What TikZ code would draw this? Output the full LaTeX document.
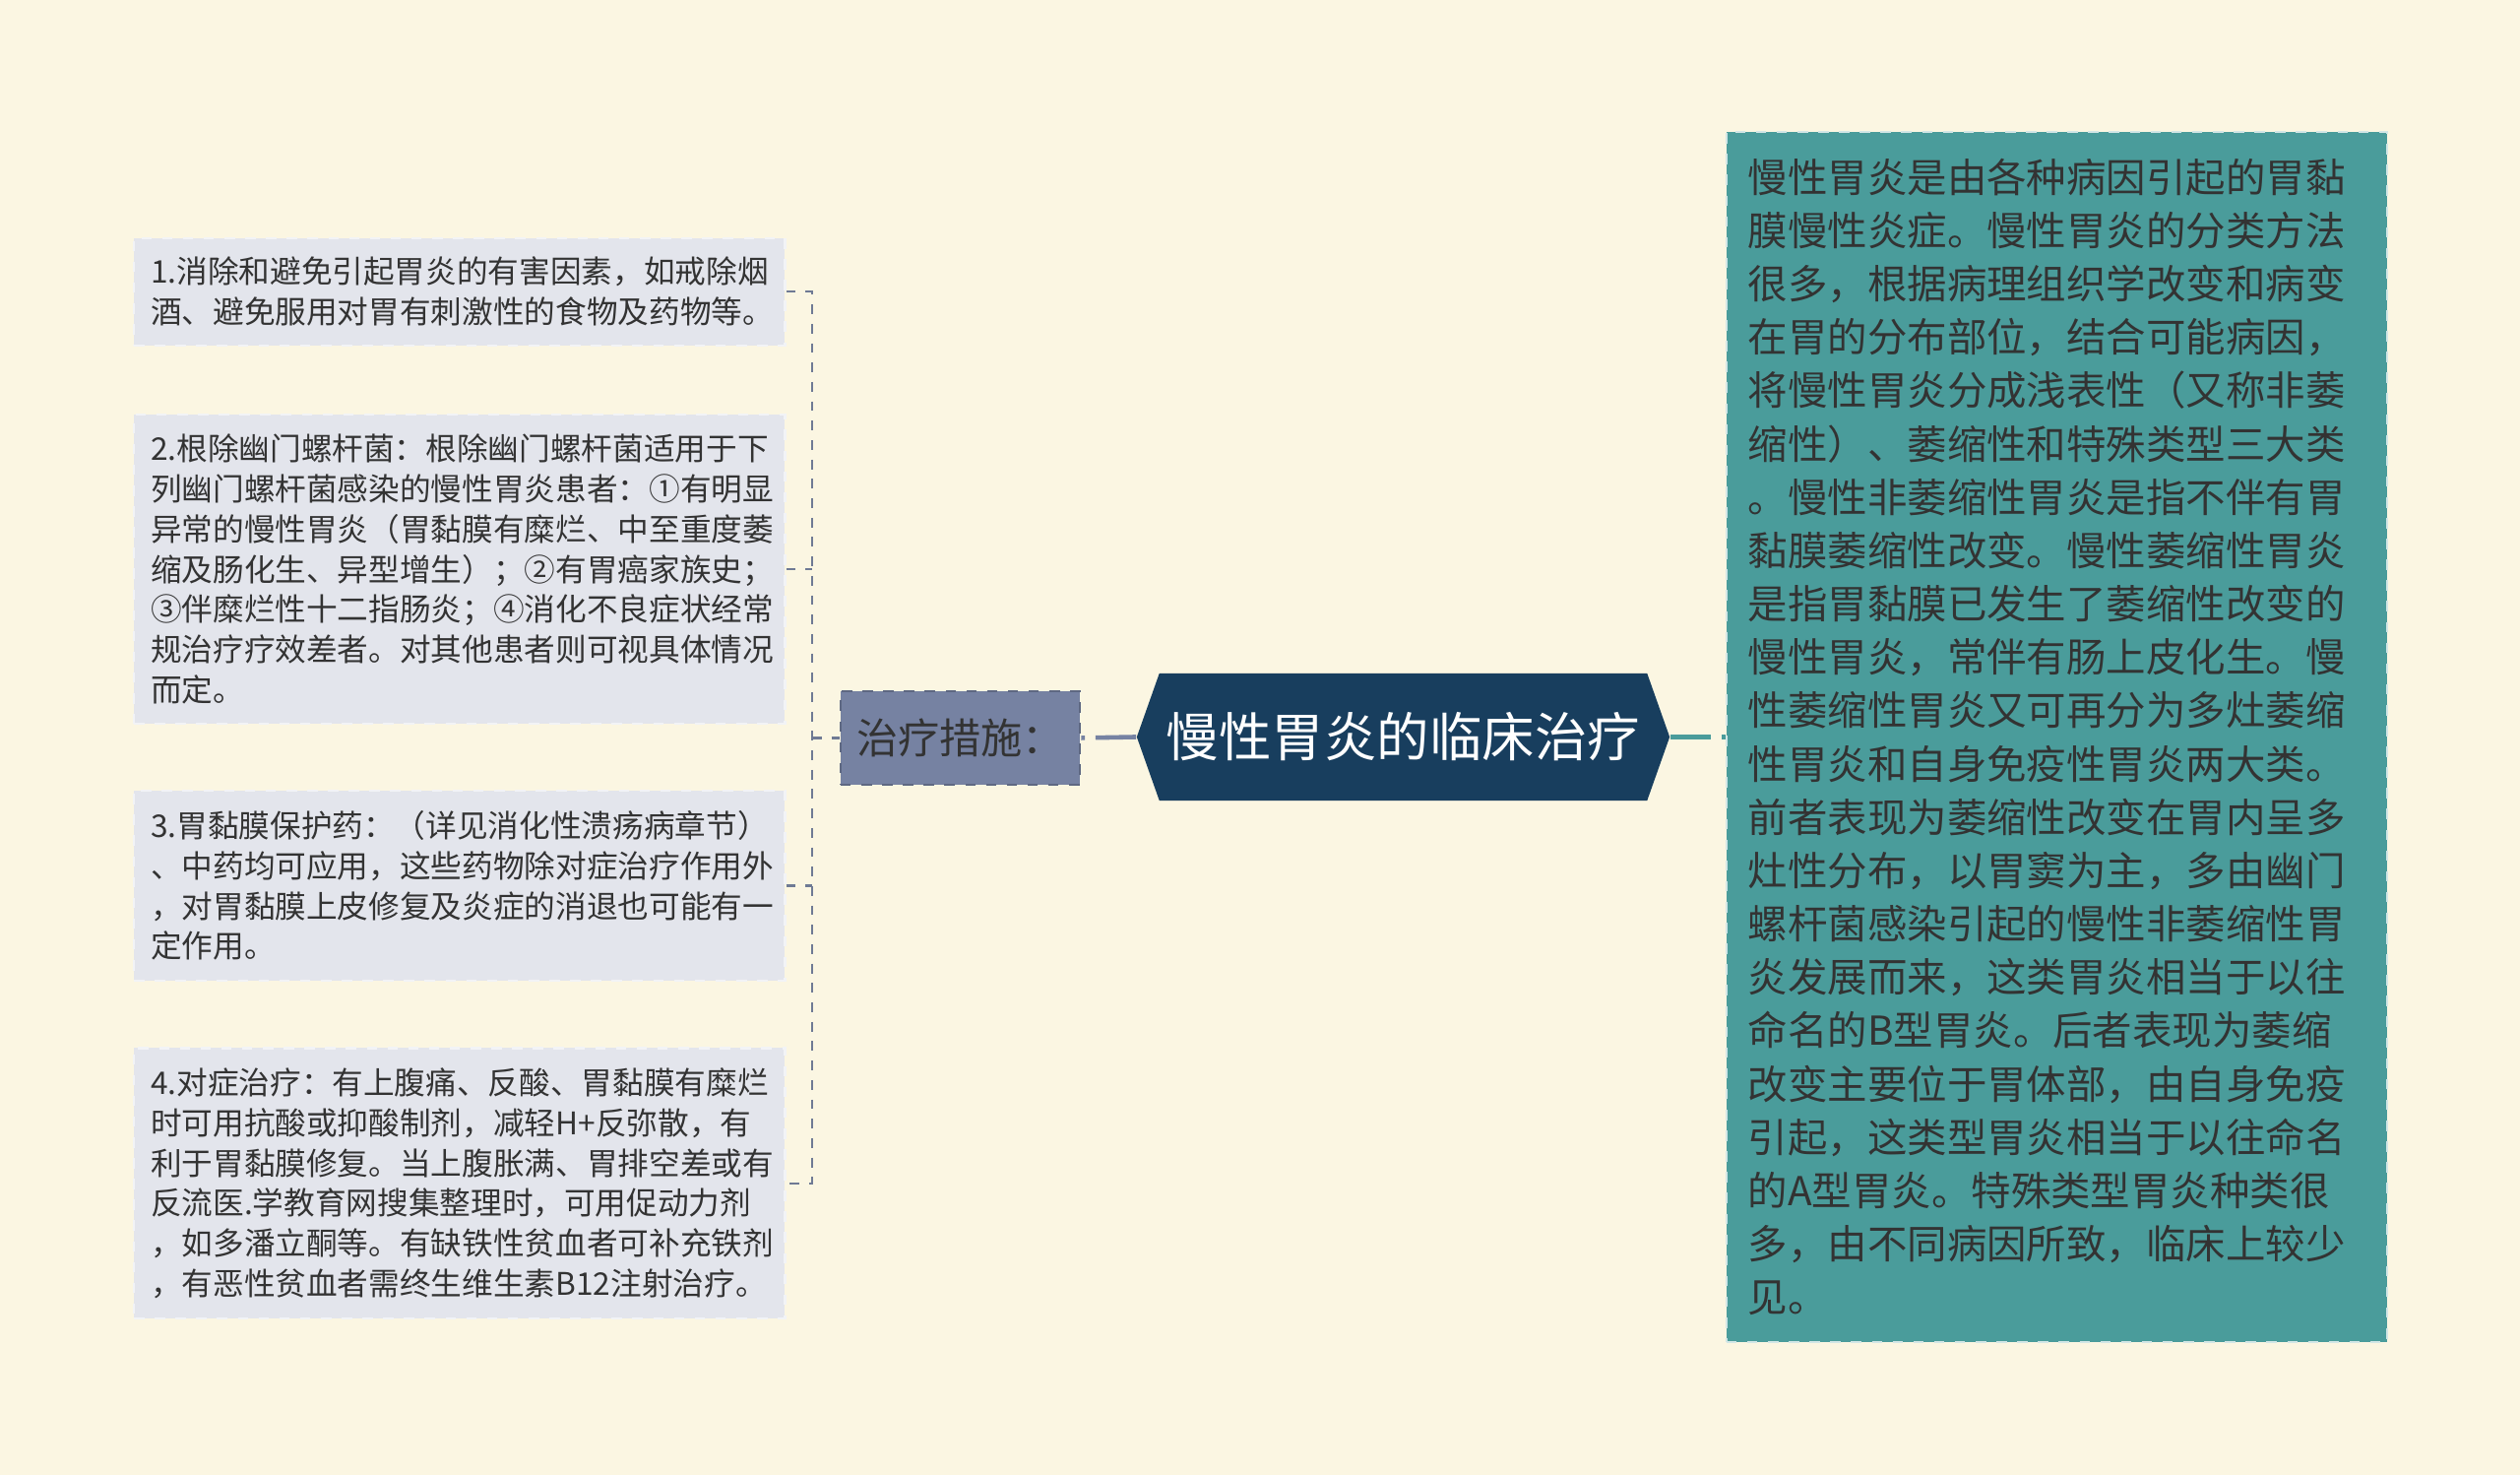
\documentclass[tikz,border=0pt]{standalone}
\usepackage{fontspec}
\setmainfont{Noto Sans CJK SC}
\usetikzlibrary{shapes.symbols}
\definecolor{bgc}{HTML}{FBF6E2}
\definecolor{leafc}{HTML}{E3E5EC}
\definecolor{catc}{HTML}{7682A2}
\definecolor{rootc}{HTML}{183E5E}
\definecolor{tealc}{HTML}{4A9C9B}
\definecolor{inkc}{HTML}{333333}
\definecolor{treec}{HTML}{6F7A94}

\begin{document}
\begin{tikzpicture}[
	x=0.01cm, y=0.01cm,
	leaf/.style={rectangle, anchor=west, fill=leafc, draw=white!55!leafc, dashed, line width=0.6pt, text=inkc, text width=6.27cm, inner xsep=0.17cm, align=left, font=\fontsize{9pt}{11.6pt}\selectfont},
	cat/.style={rectangle, fill=catc, draw=catc!80!black, dashed, line width=0.7pt, text=inkc, minimum width=2.43cm, minimum height=0.95cm, inner sep=0pt, font=\fontsize{12pt}{14pt}\selectfont},
	root/.style={signal, signal to=east and west, signal pointer angle=141, fill=rootc, text=white, minimum width=5.41cm, minimum height=1.29cm, inner sep=0pt, font=\fontsize{15.2pt}{18pt}\selectfont},
	desc/.style={rectangle, fill=tealc, draw=white!75!tealc, dashed, line width=0.6pt, text=inkc, text width=6.27cm, inner xsep=0.22cm, align=left, minimum height=12.29cm, font=\fontsize{11.5pt}{15.4pt}\selectfont},
	tree/.style={draw=treec, line width=0.6pt, dash pattern=on 2.8pt off 2.8pt},
	link/.style={line width=1.3pt, dash pattern=on 11.7pt off 3.1pt}
	]
	\useasboundingbox (0,0) rectangle (2560,1498);
	\fill[bgc] (0,0) rectangle (2560,1498);

	\node[root] (root) at (1425.5,749.5) {慢性胃炎的临床治疗};
	\node[cat] (cat) at (975.5,748.5) {治疗措施：};
	\node[desc] (desc) at (2089.5,749.5) {慢性胃炎是由各种病因引起的胃黏\\膜慢性炎症。慢性胃炎的分类方法\\很多，根据病理组织学改变和病变\\在胃的分布部位，结合可能病因，\\将慢性胃炎分成浅表性（又称非萎\\缩性）、萎缩性和特殊类型三大类\\。慢性非萎缩性胃炎是指不伴有胃\\黏膜萎缩性改变。慢性萎缩性胃炎\\是指胃黏膜已发生了萎缩性改变的\\慢性胃炎，常伴有肠上皮化生。慢\\性萎缩性胃炎又可再分为多灶萎缩\\性胃炎和自身免疫性胃炎两大类。\\前者表现为萎缩性改变在胃内呈多\\灶性分布，以胃窦为主，多由幽门\\螺杆菌感染引起的慢性非萎缩性胃\\炎发展而来，这类胃炎相当于以往\\命名的B型胃炎。后者表现为萎缩\\改变主要位于胃体部，由自身免疫\\引起，这类型胃炎相当于以往命名\\的A型胃炎。特殊类型胃炎种类很\\多，由不同病因所致，临床上较少\\见。};

	\node[leaf, minimum height=1.09cm] (t1) at (135,1201.7) {1.消除和避免引起胃炎的有害因素，如戒除烟\\酒、避免服用对胃有刺激性的食物及药物等。};
	\node[leaf, minimum height=3.14cm] (t2) at (135,920) {2.根除幽门螺杆菌：根除幽门螺杆菌适用于下\\列幽门螺杆菌感染的慢性胃炎患者：①有明显\\异常的慢性胃炎（胃黏膜有糜烂、中至重度萎\\缩及肠化生、异型增生）；②有胃癌家族史；\\③伴糜烂性十二指肠炎；④消化不良症状经常\\规治疗疗效差者。对其他患者则可视具体情况\\而定。};
	\node[leaf, minimum height=1.93cm] (t3) at (135,598.5) {3.胃黏膜保护药：（详见消化性溃疡病章节）\\、中药均可应用，这些药物除对症治疗作用外\\，对胃黏膜上皮修复及炎症的消退也可能有一\\定作用。};
	\node[leaf, minimum height=2.745cm] (t4) at (135,296.2) {4.对症治疗：有上腹痛、反酸、胃黏膜有糜烂\\时可用抗酸或抑酸制剂，减轻H+反弥散，有\\利于胃黏膜修复。当上腹胀满、胃排空差或有\\反流医.学教育网搜集整理时，可用促动力剂\\，如多潘立酮等。有缺铁性贫血者可补充铁剂\\，有恶性贫血者需终生维生素B12注射治疗。};

	\coordinate (trunk) at (825,748.5);
	\draw[tree] (t1.east) -| (trunk) |- (t4.east);
	\draw[tree] (t2.east) -- (t2.east -| trunk);
	\draw[tree] (t3.east) -- (t3.east -| trunk);
	\draw[tree] (trunk) -- (cat.west);

	\draw[link, catc] (root.west) -- (cat.east);
	\draw[link, tealc] (root.east) -- (desc.west);
\end{tikzpicture}
\end{document}
